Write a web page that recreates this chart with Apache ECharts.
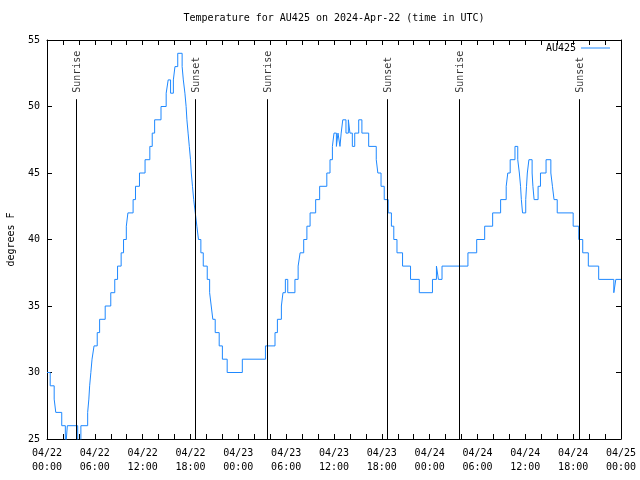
<!DOCTYPE html>
<html>
<head>
<meta charset="utf-8">
<script src="https://cdn.jsdelivr.net/npm/echarts@6/dist/echarts.min.js"></script>
<style>html,body{margin:0;padding:0;background:#fff;}#c{width:640px;height:480px;}</style>
</head>
<body>
<div id="c"></div>
<script>
// hours since 2024-04-22 00:00 UTC at which each temperature level begins
const hours = [0.0,0.4,0.9,1.1,1.85,2.3,2.55,3.85,4.25,5.1,5.25,5.35,5.5,5.65,5.9,6.3,6.6,7.3,8.0,8.5,8.85,9.3,9.6,9.95,10.15,10.8,11.1,11.6,12.3,12.9,13.2,13.5,14.3,14.95,15.2,15.5,15.85,16.05,16.4,16.95,17.1,17.3,17.45,17.55,17.7,17.85,18.0,18.1,18.25,18.4,18.6,18.8,19.0,19.3,19.6,20.1,20.4,20.6,20.8,21.1,21.6,22.0,22.6,24.5,27.4,28.6,28.9,29.4,29.6,29.9,30.2,31.1,31.5,31.75,32.2,32.6,33.0,33.7,34.2,35.1,35.5,35.8,36.0,36.3,36.5,36.75,36.9,37.1,37.5,37.8,38.0,38.3,38.6,39.1,39.5,40.35,41.3,41.5,41.9,42.3,42.8,43.2,43.5,43.9,44.6,45.6,46.7,48.35,48.85,49.1,49.55,52.8,53.9,54.9,55.9,56.9,57.6,57.8,58.1,58.7,59.05,59.25,59.4,59.5,59.65,60.05,60.15,60.25,60.45,60.85,60.95,61.1,61.6,61.9,62.6,63.2,63.4,63.6,64.0,66.0,66.7,67.2,67.9,69.2,71.1,71.35,72.0];
const tempF = [30,29,28,27,26,24,26,24,26,27,28,29,30,31,32,33,34,35,36,37,38,39,40,41,42,43,44,45,46,47,48,49,50,51,52,51,52,53,54,53,52,51,50,49,48,47,46,45,44,43,42,41,40,39,38,37,36,35,34,33,32,31,30,31,32,33,34,35,36,37,36,37,38,39,40,41,42,43,44,45,46,47,48,47,48,47,48,49,48,49,48,47,48,49,48,47,46,45,44,43,42,41,40,39,38,37,36,37,38,37,38,39,40,41,42,43,44,45,46,47,46,45,44,43,42,43,44,45,46,45,44,43,44,45,46,45,44,43,42,41,40,39,38,37,36,37,37];
// sunrise / sunset times (hours since start)
const sunHours = [3.68, 18.60, 27.63, 42.65, 51.72, 66.77];
const sunLabels = ['Sunrise','Sunset','Sunrise','Sunset','Sunrise','Sunset'];
const xTickLabels = ['04/22\n00:00','04/22\n06:00','04/22\n12:00','04/22\n18:00','04/23\n00:00','04/23\n06:00','04/23\n12:00','04/23\n18:00','04/24\n00:00','04/24\n06:00','04/24\n12:00','04/24\n18:00','04/25\n00:00'];
const yTicks = [25,30,35,40,45,50,55];

const FONT = 'DejaVu Sans Mono';
const sunLineTop = 50.55;
const sunLabelBase = 51.1;

const chart = echarts.init(document.getElementById('c'), null, {renderer:'canvas'});
const tickStyle = {show:true, inside:true, length:5, lineStyle:{color:'#000', width:1}};
const minorStyle = {show:true, splitNumber:3, length:5, lineStyle:{color:'#000', width:1}};
const lineStyleAxis = {show:true, onZero:false, lineStyle:{color:'#000', width:1}};
chart.setOption({
  animation:false,
  backgroundColor:'#fff',
  title:{
    text:'Temperature for AU425 on 2024-Apr-22 (time in UTC)',
    left:334, top:13, textAlign:'center', padding:0,
    textStyle:{fontFamily:FONT, fontSize:10, fontWeight:'normal', color:'#000'}
  },
  legend:{
    data:['AU425'], right:30, top:43, align:'right', padding:0,
    icon:'rect', itemWidth:29, itemHeight:1,
    textStyle:{fontFamily:FONT, fontSize:10, color:'#000'}
  },
  grid:{left:47, right:19, top:40, bottom:41, containLabel:false, outerBoundsMode:'none'},
  xAxis:[{
    type:'value', min:0, max:72, interval:6,
    axisLine:lineStyleAxis, axisTick:tickStyle, minorTick:minorStyle,
    splitLine:{show:false},
    axisLabel:{fontFamily:FONT, fontSize:10, color:'#000', margin:7, lineHeight:14,
      formatter:(v)=>xTickLabels[Math.round(v/6)]}
  },{
    type:'value', position:'top', min:0, max:72, interval:6,
    axisLine:lineStyleAxis, axisTick:tickStyle, minorTick:minorStyle,
    splitLine:{show:false}, axisLabel:{show:false}
  }],
  yAxis:[{
    type:'value', min:yTicks[0], max:yTicks[yTicks.length-1], interval:5,
    name:'degrees F', nameLocation:'middle', nameGap:31, nameRotate:90,
    nameTextStyle:{fontFamily:FONT, fontSize:10, color:'#000'},
    axisLine:lineStyleAxis, axisTick:tickStyle, splitLine:{show:false},
    axisLabel:{fontFamily:FONT, fontSize:10, color:'#000', margin:7}
  },{
    type:'value', position:'right', min:yTicks[0], max:yTicks[yTicks.length-1], interval:5,
    axisLine:lineStyleAxis, axisTick:tickStyle, splitLine:{show:false},
    axisLabel:{show:false}
  }],
  series:[{
    name:'AU425', type:'line', step:'end', symbol:'none', showSymbol:false,
    clip:true,
    lineStyle:{color:'#1e88ff', width:1},
    itemStyle:{color:'#1e88ff'},
    data:hours.map((h,i)=>[h,tempF[i]]),
    markLine:{
      silent:true, symbol:['none','none'], animation:false,
      label:{show:false},
      lineStyle:{color:'#000', width:1, type:'solid'},
      emphasis:{disabled:true},
      data:sunHours.map(h=>[{coord:[h,yTicks[0]]},{coord:[h,sunLineTop]}])
    }
  },{
    name:'sun', type:'scatter', symbolSize:0, silent:true,
    data:sunHours.map((h,i)=>({value:[h,sunLabelBase], name:sunLabels[i]})),
    label:{show:true, formatter:'{b}', position:'inside', rotate:90, align:'left', verticalAlign:'middle',
      offset:[-1,1.5], fontFamily:FONT, fontSize:10, color:'#000'}
  }]
});
</script>
</body>
</html>
